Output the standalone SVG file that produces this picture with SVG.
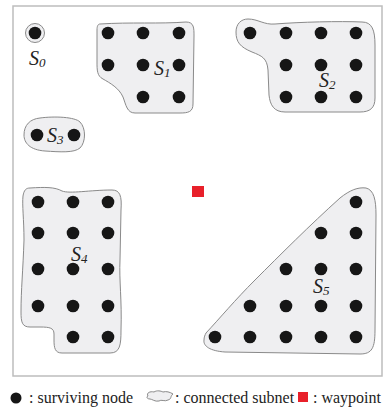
<svg xmlns="http://www.w3.org/2000/svg" width="385" height="410" viewBox="0 0 385 410">
<defs>
<style>
.frame{fill:#fff;stroke:#bdbdbd;stroke-width:1.5}
.blob{fill:#efeff1;stroke:#8a8a8a;stroke-width:1}
.dot{fill:#161616}
.lab{font-family:'Liberation Serif','Times New Roman','DejaVu Serif',serif;font-style:italic;font-size:20px;fill:#222}
.sub{font-size:13px}
.leg{font-family:'Liberation Serif','Times New Roman','DejaVu Serif',serif;font-size:16px;fill:#222}
.wp{fill:#e8202a}
</style>
</defs>
<rect x="0" y="0" width="385" height="410" fill="#fff"/>
<rect class="frame" x="13" y="6" width="369" height="370"/>

<g id="connectors"></g>

<g id="S0">
<circle class="blob" cx="35" cy="33" r="9.5"/>
<circle class="dot" cx="35" cy="33" r="6.3"/>
<text class="lab" x="29" y="65">S<tspan class="sub" dy="2">0</tspan></text>
</g>

<g id="S1">
<path class="blob" d="M100,24 C130,22 160,24 186,22 C194,22 194,28 194,36 L193,104 C193,112 188,113 180,113 L135,113 C127,113 126,105 123,97 C119,88 110,83 103,79 C97,76 97,70 97,62 L97,30 C97,26 98,24 100,24 Z"/>
<circle class="dot" cx="108" cy="33" r="6.3"/>
<circle class="dot" cx="143" cy="33" r="6.3"/>
<circle class="dot" cx="179" cy="33" r="6.3"/>
<circle class="dot" cx="108" cy="65" r="6.3"/>
<circle class="dot" cx="143" cy="65" r="6.3"/>
<circle class="dot" cx="179" cy="65" r="6.3"/>
<circle class="dot" cx="143" cy="97" r="6.3"/>
<circle class="dot" cx="179" cy="97" r="6.3"/>
<text class="lab" x="154" y="75">S<tspan class="sub" dy="2">1</tspan></text>
</g>

<g id="S2">
<path class="blob" d="M248,19 C258,19 264,25 275,24 C300,22 340,21 362,22 C372,22 375,30 375,45 L375,98 C375,108 370,112 360,112 L285,112 C274,112 270,105 269,95 L268,70 C267,58 262,56 252,52 C240,47 236,42 236,32 C236,24 241,19 248,19 Z"/>
<circle class="dot" cx="250" cy="33" r="6.3"/>
<circle class="dot" cx="286" cy="33" r="6.3"/>
<circle class="dot" cx="321" cy="33" r="6.3"/>
<circle class="dot" cx="356" cy="33" r="6.3"/>
<circle class="dot" cx="286" cy="65" r="6.3"/>
<circle class="dot" cx="321" cy="65" r="6.3"/>
<circle class="dot" cx="356" cy="65" r="6.3"/>
<circle class="dot" cx="286" cy="97" r="6.3"/>
<circle class="dot" cx="321" cy="97" r="6.3"/>
<circle class="dot" cx="356" cy="97" r="6.3"/>
<text class="lab" x="319" y="87">S<tspan class="sub" dy="2">2</tspan></text>
</g>

<g id="S3">
<path class="blob" d="M40,118 C55,116 75,117 80,122 C86,128 86,142 80,148 C74,153 60,152 45,151 C30,150 24,143 24,135 C24,125 30,119 40,118 Z"/>
<circle class="dot" cx="37" cy="135" r="6.3"/>
<circle class="dot" cx="74" cy="135" r="6.3"/>
<text class="lab" x="47" y="142">S<tspan class="sub" dy="2">3</tspan></text>
</g>

<g id="S4">
<path class="blob" d="M30,188 C45,187 55,187 62,191 C70,194 90,190 112,190 C120,190 122,196 121,210 L120,260 C119,280 122,300 121,330 C121,345 120,353 110,353 L62,353 C55,353 54,348 54,340 L54,334 C54,328 50,327 40,327 L30,327 C22,327 21,322 21,312 C21,290 23,270 24,240 C24,220 22,205 23,196 C24,190 26,188 30,188 Z"/>
<circle class="dot" cx="38" cy="202" r="6.3"/>
<circle class="dot" cx="73" cy="202" r="6.3"/>
<circle class="dot" cx="108" cy="202" r="6.3"/>
<circle class="dot" cx="38" cy="233" r="6.3"/>
<circle class="dot" cx="73" cy="233" r="6.3"/>
<circle class="dot" cx="108" cy="233" r="6.3"/>
<circle class="dot" cx="38" cy="269" r="6.3"/>
<circle class="dot" cx="73" cy="269" r="6.3"/>
<circle class="dot" cx="108" cy="269" r="6.3"/>
<circle class="dot" cx="38" cy="306" r="6.3"/>
<circle class="dot" cx="73" cy="306" r="6.3"/>
<circle class="dot" cx="108" cy="306" r="6.3"/>
<circle class="dot" cx="73" cy="337" r="6.3"/>
<circle class="dot" cx="108" cy="337" r="6.3"/>
<text class="lab" x="71" y="261">S<tspan class="sub" dy="2">4</tspan></text>
</g>

<g id="S5">
<path class="blob" d="M206,333 C220,318 235,300 255,280 C280,255 310,225 340,198 C350,190 358,187 366,188 C374,190 376,200 376,215 L375,330 C375,348 372,354 360,354 L225,352 C210,351 203,346 204,340 C204,337 205,335 206,333 Z"/>
<circle class="dot" cx="356" cy="202" r="6.3"/>
<circle class="dot" cx="321" cy="233" r="6.3"/>
<circle class="dot" cx="356" cy="233" r="6.3"/>
<circle class="dot" cx="286" cy="269" r="6.3"/>
<circle class="dot" cx="321" cy="269" r="6.3"/>
<circle class="dot" cx="356" cy="269" r="6.3"/>
<circle class="dot" cx="250" cy="306" r="6.3"/>
<circle class="dot" cx="286" cy="306" r="6.3"/>
<circle class="dot" cx="321" cy="306" r="6.3"/>
<circle class="dot" cx="356" cy="306" r="6.3"/>
<circle class="dot" cx="215" cy="337" r="6.3"/>
<circle class="dot" cx="250" cy="337" r="6.3"/>
<circle class="dot" cx="286" cy="337" r="6.3"/>
<circle class="dot" cx="321" cy="337" r="6.3"/>
<circle class="dot" cx="356" cy="337" r="6.3"/>
<text class="lab" x="313" y="293">S<tspan class="sub" dy="2">5</tspan></text>
</g>

<g id="waypoint">
<rect class="wp" x="192" y="186" width="12" height="11"/>
</g>

<g id="legend">
<circle class="dot" cx="16" cy="398" r="5.5"/>
<text class="leg" x="29" y="403">: surviving node</text>
<path class="blob" d="M148,396 C146,393 150,391 154,392 C157,390 161,391 163,392 C166,391 170,392 173,394 C170,396 172,399 168,400 C165,402 161,399 159,401 C155,402 152,399 150,399 C147,399 146,397 148,396 Z"/>
<text class="leg" x="175" y="403">: connected subnet</text>
<rect class="wp" x="298" y="392" width="10" height="10"/>
<text class="leg" x="313" y="403">: waypoint</text>
</g>
</svg>
